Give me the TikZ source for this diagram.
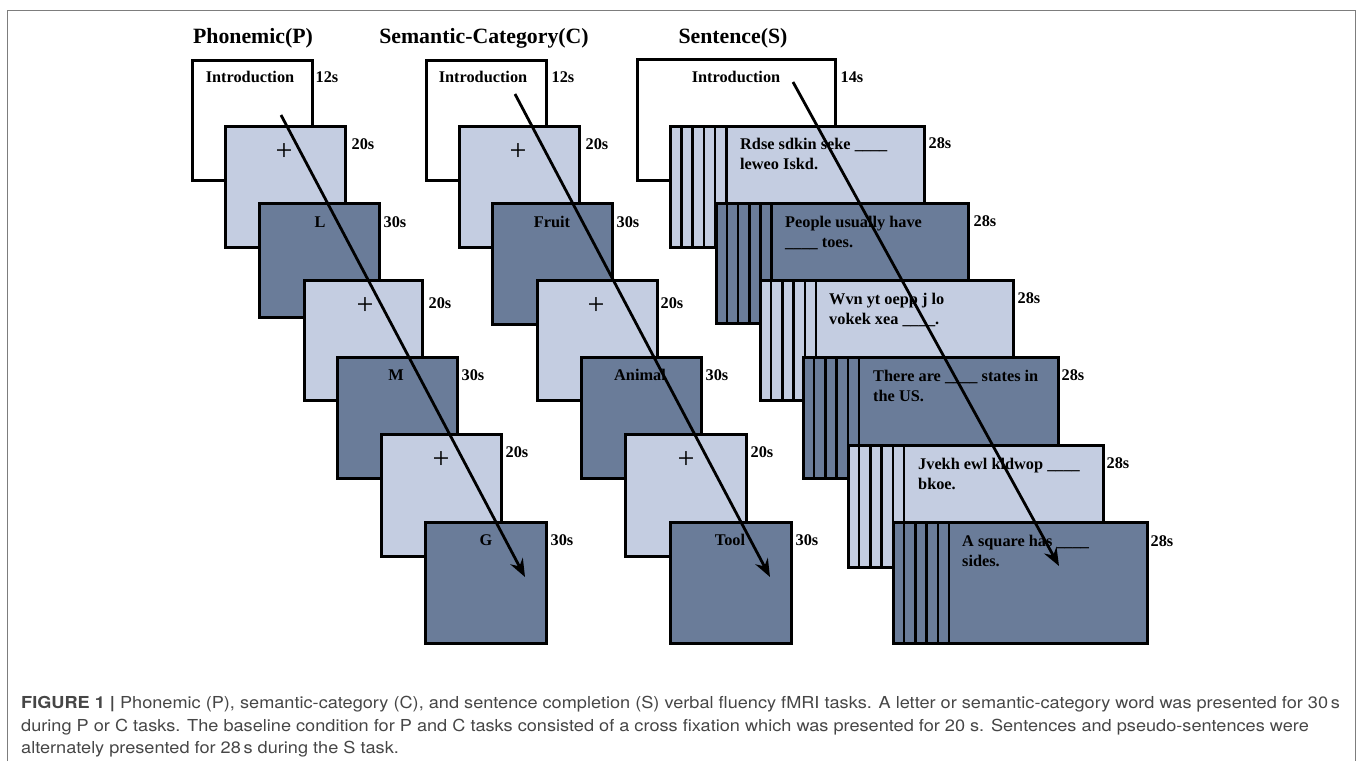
\documentclass[tikz,border=0pt]{standalone}
\usepackage{fontspec}
\setmainfont{Liberation Serif}
\newfontfamily\capfont[FakeStretch=1.1]{TeX Gyre Heros}
\usetikzlibrary{arrows.meta}
\definecolor{lightB}{RGB}{196,205,225}
\definecolor{darkB}{RGB}{106,124,153}
\definecolor{frameG}{RGB}{125,125,125}
\definecolor{capG}{RGB}{70,70,70}
\tikzset{
  scr/.style={draw=black, line width=3pt, anchor=north west, inner sep=0pt, outer sep=0pt},
  wh/.style={scr, fill=white},
  lt/.style={scr, fill=lightB},
  dk/.style={scr, fill=darkB},
  ttl/.style={font=\bfseries\fontsize{21.8}{26}\selectfont, anchor=base, inner sep=0pt},
  lbl/.style={font=\bfseries\fontsize{16.3}{20}\selectfont, inner sep=0pt},
  dur/.style={lbl},
  crs/.style={font=\fontsize{30}{30}\selectfont, inner sep=0pt},
  sent/.style={lbl, anchor=base west},
  stripe/.style={line width=2.4pt, draw=black},
  flow/.style={line width=2.8pt, -{Stealth[length=18pt, width=14pt, inset=6pt]}},
  captxt/.style={font=\capfont\fontsize{16.5}{20}\selectfont, text=capG, anchor=base west, inner sep=0pt},
}
\newcommand{\blank}{\_\_\_\_}
\begin{document}
\begin{tikzpicture}[x=1pt,y=-1pt]
\useasboundingbox (0,0) rectangle (1357,761);
\draw[frameG, line width=1.5pt] (7.5,761) -- (7.5,10.5) -- (1355.5,10.5) -- (1355.5,761);

% titles
\node[ttl] (tP) at (253,43) {Phonemic(P)};
\node[ttl] (tC) at (484,43) {Semantic-Category(C)};
\node[ttl] (tS) at (733,43) {Sentence(S)};

% ---------- Phonemic ----------
\node[wh, minimum width=120pt, minimum height=120pt] (p1) at (192,60) {};
\node[lbl] (p1t) at (250,77) {Introduction};
\node[dur] (p1d) at (327,77) {12s};
\node[lt, minimum width=120pt, minimum height=121pt] (p2) at (225,126) {};
\node[crs] (p2t) at (284,152) {+};
\node[dur] (p2d) at (363,144) {20s};
\node[dk, minimum width=120pt, minimum height=114pt] (p3) at (259,203) {};
\node[lbl] (p3t) at (320,222) {L};
\node[dur] (p3d) at (395,222) {30s};
\node[lt, minimum width=118pt, minimum height=120pt] (p4) at (304,280) {};
\node[crs] (p4t) at (365,306) {+};
\node[dur] (p4d) at (440,303) {20s};
\node[dk, minimum width=120pt, minimum height=121pt] (p5) at (337,357) {};
\node[lbl] (p5t) at (396,375) {M};
\node[dur] (p5d) at (473,375) {30s};
\node[lt, minimum width=120pt, minimum height=122pt] (p6) at (381,434) {};
\node[crs] (p6t) at (441,460) {+};
\node[dur] (p6d) at (517,452) {20s};
\node[dk, minimum width=121pt, minimum height=121pt] (p7) at (425,522) {};
\node[lbl] (p7t) at (486,540) {G};
\node[dur] (p7d) at (562,540) {30s};
\coordinate (pa) at (281,115);
\coordinate (pb) at (525,577);
\draw[flow] (pa) -- (pb);

% ---------- Semantic ----------
\node[wh, minimum width=120pt, minimum height=120pt] (c1) at (426,60) {};
\node[lbl] (c1t) at (483,77) {Introduction};
\node[dur] (c1d) at (563,77) {12s};
\node[lt, minimum width=120pt, minimum height=121pt] (c2) at (459,126) {};
\node[crs] (c2t) at (518,152) {+};
\node[dur] (c2d) at (597,144) {20s};
\node[dk, minimum width=120pt, minimum height=121pt] (c3) at (492,203) {};
\node[lbl] (c3t) at (552,222) {Fruit};
\node[dur] (c3d) at (628,222) {30s};
\node[lt, minimum width=120pt, minimum height=120pt] (c4) at (537,280) {};
\node[crs] (c4t) at (596,306) {+};
\node[dur] (c4d) at (672,303) {20s};
\node[dk, minimum width=120pt, minimum height=121pt] (c5) at (581,357) {};
\node[lbl] (c5t) at (640,375) {Animal};
\node[dur] (c5d) at (717,375) {30s};
\node[lt, minimum width=121pt, minimum height=122pt] (c6) at (625,434) {};
\node[crs] (c6t) at (686,460) {+};
\node[dur] (c6d) at (762,452) {20s};
\node[dk, minimum width=121pt, minimum height=121pt] (c7) at (670,522) {};
\node[lbl] (c7t) at (730,540) {Tool};
\node[dur] (c7d) at (807,540) {30s};
\coordinate (ca) at (515,94);
\coordinate (cb) at (770,577);
\draw[flow] (ca) -- (cb);

% ---------- Sentence ----------
\node[wh, minimum width=198pt, minimum height=121pt] (s0) at (637,59) {};
\node[lbl] (s0t) at (736,77) {Introduction};
\node[dur] (s0d) at (852,77) {14s};

\node[lt, minimum width=254pt, minimum height=121pt] (s1) at (670,126) {};
\foreach \k in {1,...,5} \draw[stripe] ([xshift=\k*11.3pt]s1.north west) -- ([xshift=\k*11.3pt]s1.south west);
\node[sent] (s1a) at (740,149) {Rdse sdkin seke \blank};
\node[sent] (s1b) at (740,169) {leweo Iskd.};
\node[dur] (s1d) at (940,143) {28s};

\node[dk, minimum width=252pt, minimum height=120pt] (s2) at (716,203) {};
\foreach \k in {1,...,5} \draw[stripe] ([xshift=\k*11.1pt]s2.north west) -- ([xshift=\k*11.1pt]s2.south west);
\node[sent] (s2a) at (785,227) {People usually have};
\node[sent] (s2b) at (785,247) {\blank\ toes.};
\node[dur] (s2d) at (985,221) {28s};

\node[lt, minimum width=253pt, minimum height=120pt] (s3) at (760,280) {};
\foreach \k in {1,...,5} \draw[stripe] ([xshift=\k*11.2pt]s3.north west) -- ([xshift=\k*11.2pt]s3.south west);
\node[sent] (s3a) at (829,304) {Wvn yt oepp j lo};
\node[sent] (s3b) at (829,324) {vokek xea \blank.};
\node[dur] (s3d) at (1029,298) {28s};

\node[dk, minimum width=255pt, minimum height=121pt] (s4) at (803,357) {};
\foreach \k in {1,...,5} \draw[stripe] ([xshift=\k*11.2pt]s4.north west) -- ([xshift=\k*11.2pt]s4.south west);
\node[sent] (s4a) at (873,381) {There are \blank\ states in};
\node[sent] (s4b) at (873,401) {the US.};
\node[dur] (s4d) at (1073,375) {28s};

\node[lt, minimum width=255pt, minimum height=122pt] (s5) at (848,445) {};
\foreach \k in {1,...,5} \draw[stripe] ([xshift=\k*11.2pt]s5.north west) -- ([xshift=\k*11.2pt]s5.south west);
\node[sent] (s5a) at (918,469) {Jvekh ewl kldwop \blank};
\node[sent] (s5b) at (918,489) {bkoe.};
\node[dur] (s5d) at (1118,463) {28s};

\node[dk, minimum width=254pt, minimum height=121pt] (s6) at (893,522) {};
\foreach \k in {1,...,5} \draw[stripe] ([xshift=\k*11.2pt]s6.north west) -- ([xshift=\k*11.2pt]s6.south west);
\node[sent] (s6a) at (962,546) {A square has \blank};
\node[sent] (s6b) at (962,566) {sides.};
\node[dur] (s6d) at (1162,541) {28s};
\coordinate (sa) at (793,82);
\coordinate (sb) at (1059,566);
\draw[flow] (sa) -- (sb);

% ---------- caption ----------
\node[captxt] (cap1) at (21,708) {\textbf{FIGURE 1 |} Phonemic (P), semantic-category (C), and sentence completion (S) verbal fluency fMRI tasks. A letter or semantic-category word was presented for 30\,s};
\node[captxt] (cap2) at (21,731) {during P or C tasks. The baseline condition for P and C tasks consisted of a cross fixation which was presented for 20 s. Sentences and pseudo-sentences were};
\node[captxt] (cap3) at (21,753) {alternately presented for 28\,s during the S task.};
\end{tikzpicture}
\end{document}
